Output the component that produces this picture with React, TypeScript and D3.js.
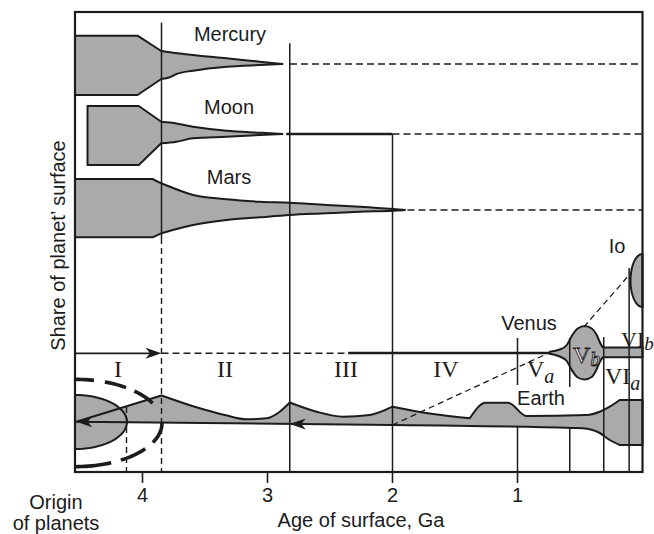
import * as d3 from 'd3';

type Pt = [number, number];

// age of surface (Ga) runs right to left; "share" is an arbitrary vertical unit
const AGE_DOMAIN: [number, number] = [4.54, 0];
const SHARE_DOMAIN: [number, number] = [0, 46];
const AGE_TICKS = [4, 3, 2, 1];

// planet profiles, [age, share]
const MERCURY_TOP: Pt[] = [[4.54, 43.63], [4.04, 43.63], [3.85, 42.1], [3.782, 41.97], [3.595, 41.7], [3.328, 41.37], [3.062, 41.03], [2.88, 40.8]];
const MERCURY_BOTTOM: Pt[] = [[4.54, 37.7], [4.04, 37.7], [3.85, 39.3], [3.782, 39.47], [3.728, 39.8], [3.595, 40.13], [3.328, 40.53], [3.062, 40.7], [2.88, 40.8]];
const MERCURY_KINKS = [4.04, 3.85];

const MOON_TOP: Pt[] = [[4.44, 36.6], [4.03, 36.6], [3.85, 35.03], [3.782, 34.95], [3.595, 34.53], [3.328, 34.13], [3.062, 33.93], [2.88, 33.8]];
const MOON_BOTTOM: Pt[] = [[4.44, 30.7], [4.03, 30.7], [3.85, 32.87], [3.728, 33.03], [3.595, 33.37], [3.328, 33.53], [3.062, 33.7], [2.88, 33.8]];
const MOON_KINKS = [4.03, 3.85];

const MARS_TOP: Pt[] = [[4.54, 29.3], [3.92, 29.3], [3.85, 28.87], [3.728, 28.27], [3.595, 27.7], [3.328, 27.27], [3.062, 27.03], [2.822, 26.93], [2.528, 26.7], [2.262, 26.53], [1.995, 26.3], [1.9, 26.2]];
const MARS_BOTTOM: Pt[] = [[4.54, 23.47], [3.92, 23.47], [3.85, 23.87], [3.728, 24.3], [3.595, 24.7], [3.328, 25.2], [3.062, 25.47], [2.822, 25.7], [2.528, 25.87], [2.262, 26.03], [1.995, 26.13], [1.9, 26.2]];
const MARS_KINKS = [3.92, 3.85];

const VENUS_TOP: Pt[] = [[0.742, 12.03], [0.662, 12.25], [0.606, 12.7], [0.566, 13.6], [0.518, 14.35], [0.462, 14.6], [0.406, 14.35], [0.366, 13.7], [0.342, 13.0], [0.318, 12.45], [0, 12.45]];
const VENUS_BOTTOM: Pt[] = [[0.742, 11.82], [0.662, 11.55], [0.606, 11.1], [0.566, 10.2], [0.518, 9.45], [0.462, 9.25], [0.406, 9.5], [0.366, 10.3], [0.342, 11.0], [0.318, 11.47], [0, 11.47]];
const VENUS_KINKS = [0.318];

const EARTH_TOP: Pt[] = [[4.53, 5.03], [3.848, 7.65], [3.542, 6.37], [3.342, 5.7], [3.168, 5.27], [3.008, 5.37], [2.902, 6.03], [2.822, 6.95], [2.608, 6.03], [2.395, 5.53], [2.182, 5.7], [2.0, 6.53], [1.702, 5.85], [1.382, 5.37], [1.256, 6.93], [1.075, 6.93], [0.928, 5.6], [0.448, 5.7], [0.342, 6.03], [0.262, 6.53], [0.182, 7.2], [0, 7.2]];
const EARTH_BOTTOM: Pt[] = [[4.53, 5.03], [2.0, 4.7], [0.56, 4.4], [0.48, 4.37], [0.342, 3.9], [0.262, 3.2], [0.182, 2.7], [0, 2.7]];
const EARTH_KINKS = [3.848, 2.822, 2.0, 1.382, 0.182];

// half ellipses: [centre age, centre share, age radius, share radius]
const ORIGIN_LENS = [4.54, 5.0, 0.416, 2.7];
const ORIGIN_RING = [4.54, 4.9, 0.696, 4.37];
const IO_SHAPE = [0, 19.15, 0.096, 2.65];

// vertical boundaries: [age, share from, share to]
const SOLID_MARKS: [number, number, number][] = [
  [3.848, 44.93, 23.4], [2.822, 42.87, 0], [2.0, 33.8, 0],
  [1.0, 13.4, 8.7], [1.0, 4.55, 0], [0.582, 13.4, 8.5], [0.582, 4.4, 0],
  [0.31, 13.5, 0], [0.107, 20.4, 0],
];
const DASHED_MARKS: [number, number, number][] = [[3.848, 23.4, 0], [4.128, 6.5, 0]];

// horizontal levels: [age from, age to, share]
const DASHED_LEVELS: [number, number, number][] = [[2.82, 0, 40.8], [2.0, 0, 33.8], [1.88, 0, 26.2], [3.848, 2.355, 11.87]];
const THICK_LEVELS: [number, number, number][] = [[2.85, 2.0, 33.8], [2.355, 0.742, 11.9]];
const VENUS_ARROW: [number, number, number] = [4.54, 3.848, 11.87];
const EARTH_ARROW_TIPS: Pt[] = [[4.53, 5.03], [2.822, 4.81]];
const DASHED_LINKS: Pt[][] = [[[2.0, 4.7], [0.742, 11.95]], [[0.47, 14.5], [0.107, 19.7]]];

const W = 654;
const H = 534;
const PLOT = { left: 75, right: 642.5, top: 12, bottom: 472 };
const SANS = "'Liberation Sans', Arial, Helvetica, sans-serif";
const SERIF = "'Liberation Serif', 'Times New Roman', serif";
const INK = '#1c1c1c';
const GREY = '#aaaaaa';

export default function App() {
  const x = d3.scaleLinear().domain(AGE_DOMAIN).range([PLOT.left, PLOT.right]);
  const y = d3.scaleLinear().domain(SHARE_DOMAIN).range([PLOT.bottom, PLOT.top]);
  const smooth = d3.line<Pt>().x(d => x(d[0])).y(d => y(d[1])).curve(d3.curveMonotoneX);
  const straight = d3.line<Pt>().x(d => x(d[0])).y(d => y(d[1]));

  // smooth pieces joined at sharp kinks
  const trace = (pts: Pt[], kinks: number[]) => {
    const segs: Pt[][] = [];
    let cur: Pt[] = [];
    pts.forEach((p, i) => {
      cur.push(p);
      if (i > 0 && i < pts.length - 1 && kinks.includes(p[0])) {
        segs.push(cur);
        cur = [p];
      }
    });
    segs.push(cur);
    return segs.map((s, i) => (i === 0 ? smooth(s)! : 'L' + smooth(s)!.slice(1))).join('');
  };
  const band = (top: Pt[], bottom: Pt[], kinks: number[]) =>
    trace(top, kinks) + 'L' + trace([...bottom].reverse(), kinks).slice(1) + 'Z';

  const ellipse = ([a, s, ra, rs]: number[], side: number, t0: number, t1: number): Pt[] =>
    d3.range(41).map(i => {
      const t = t0 + ((t1 - t0) * i) / 40;
      return [a - side * ra * Math.cos(t), s - rs * Math.sin(t)] as Pt;
    });

  const bands = [
    band(MERCURY_TOP, MERCURY_BOTTOM, MERCURY_KINKS),
    band(MOON_TOP, MOON_BOTTOM, MOON_KINKS),
    band(MARS_TOP, MARS_BOTTOM, MARS_KINKS),
    band(VENUS_TOP, VENUS_BOTTOM, VENUS_KINKS),
    band(EARTH_TOP, EARTH_BOTTOM, EARTH_KINKS),
  ];
  const lens = straight(ellipse(ORIGIN_LENS, 1, -Math.PI / 2, Math.PI / 2)) + 'Z';
  const io = straight(ellipse(IO_SHAPE, -1, -Math.PI / 2, Math.PI / 2)) + 'Z';
  const ringUpper = straight(ellipse(ORIGIN_RING, 1, -Math.PI / 2, 0))!;
  const ringLower = straight(ellipse(ORIGIN_RING, 1, 0, Math.PI / 2))!;

  const arrowHead = (px: number, py: number, dir: number) => {
    const L = 16, w = 5.5;
    return `${px},${py} ${px - dir * L},${py - w} ${px - dir * L * 0.72},${py} ${px - dir * L},${py + w}`;
  };

  return (
    <svg width={W} height={H} style={{ position: 'absolute', left: 0, top: 0, background: '#fff' }}>
      {/* fills */}
      <path d={lens} fill={GREY} />
      <path d={io} fill={GREY} />
      {bands.map((d, i) => <path key={i} d={d} fill={GREY} />)}

      {/* boundaries between stages */}
      {SOLID_MARKS.map(([a, s0, s1], i) => (
        <line key={i} x1={x(a)} x2={x(a)} y1={y(s0)} y2={y(s1)} stroke={INK} strokeWidth={1.5} />
      ))}
      {DASHED_MARKS.map(([a, s0, s1], i) => (
        <line key={i} x1={x(a)} x2={x(a)} y1={y(s0)} y2={y(s1)} stroke={INK} strokeWidth={1.4} strokeDasharray="6 4" />
      ))}
      {DASHED_LEVELS.map(([a0, a1, s], i) => (
        <line key={i} x1={x(a0)} x2={x(a1)} y1={y(s)} y2={y(s)} stroke={INK} strokeWidth={1.5} strokeDasharray="7 4" />
      ))}
      {THICK_LEVELS.map(([a0, a1, s], i) => (
        <line key={i} x1={x(a0)} x2={x(a1)} y1={y(s)} y2={y(s)} stroke={INK} strokeWidth={2.6} />
      ))}
      {DASHED_LINKS.map((pts, i) => (
        <path key={i} d={straight(pts)!} fill="none" stroke={INK} strokeWidth={1.3} strokeDasharray="6 4" />
      ))}

      {/* outlines */}
      <path d={lens} fill="none" stroke={INK} strokeWidth={2} />
      <path d={io} fill="none" stroke={INK} strokeWidth={2} />
      {bands.map((d, i) => <path key={i} d={d} fill="none" stroke={INK} strokeWidth={2} strokeLinejoin="round" />)}

      {/* arrows */}
      <line x1={x(VENUS_ARROW[0])} x2={x(VENUS_ARROW[1]) - 8} y1={y(VENUS_ARROW[2])} y2={y(VENUS_ARROW[2])} stroke={INK} strokeWidth={1.8} />
      <polygon points={arrowHead(x(VENUS_ARROW[1]), y(VENUS_ARROW[2]), 1)} fill={INK} />
      {EARTH_ARROW_TIPS.map(([a, s], i) => (
        <polygon key={i} points={arrowHead(x(a), y(s), -1)} fill={INK} />
      ))}

      {/* origin of planets ring */}
      <path d={ringUpper} fill="none" stroke={INK} strokeWidth={3.6} strokeDasharray="19 11 22 9 22 40" />
      <path d={ringLower} fill="none" stroke={INK} strokeWidth={3.6} strokeDasharray="22 10 27 10 60" />

      {/* planet labels */}
      <g fontFamily={SANS} fontSize={20} fill={INK} textAnchor="middle">
        <text x={230} y={40.5}>Mercury</text>
        <text x={229} y={114.3}>Moon</text>
        <text x={229} y={184}>Mars</text>
        <text x={529} y={330}>Venus</text>
        <text x={541} y={405}>Earth</text>
        <text x={617} y={253}>Io</text>
      </g>

      {/* stage labels */}
      <g fontFamily={SERIF} fontSize={24} fill={INK}>
        <text x={118} y={377} textAnchor="middle">I</text>
        <text x={225} y={377} textAnchor="middle">II</text>
        <text x={346} y={377} textAnchor="middle">III</text>
        <text x={446} y={377} textAnchor="middle">IV</text>
        <text x={527} y={377}>
          V<tspan fontStyle="italic" fontSize={20} dy={6}>a</tspan>
        </text>
        <text x={573} y={363} fill="#fff" stroke={INK} strokeWidth={0.9}>
          V<tspan fontStyle="italic" fontSize={20} dy={3}>b</tspan>
        </text>
        <text x={605} y={384}>
          VI<tspan fontStyle="italic" fontSize={20} dy={6}>a</tspan>
        </text>
        <text x={621} y={347} fontSize={22}>
          VI<tspan fontStyle="italic" fontSize={19} dy={3}>b</tspan>
        </text>
      </g>

      {/* axis */}
      {AGE_TICKS.map(t => (
        <g key={t}>
          <line x1={x(t)} x2={x(t)} y1={PLOT.bottom} y2={PLOT.bottom + 11} stroke={INK} strokeWidth={1.6} />
          <text x={x(t)} y={502} textAnchor="middle" fontFamily={SANS} fontSize={20} fill={INK}>{t}</text>
        </g>
      ))}
      <text x={361} y={527} textAnchor="middle" fontFamily={SANS} fontSize={20} fill={INK}>Age of surface, Ga</text>
      <text x={56} y={509} textAnchor="middle" fontFamily={SANS} fontSize={20} fill={INK}>Origin</text>
      <text x={56} y={530} textAnchor="middle" fontFamily={SANS} fontSize={20} fill={INK}>of planets</text>
      <text transform="translate(65,245.5) rotate(-90)" textAnchor="middle" fontFamily={SANS} fontSize={20} fill={INK}>
        Share of planet’ surface
      </text>

      {/* frame */}
      <rect x={PLOT.left} y={PLOT.top} width={PLOT.right - PLOT.left} height={PLOT.bottom - PLOT.top} fill="none" stroke={INK} strokeWidth={2.2} />
    </svg>
  );
}
